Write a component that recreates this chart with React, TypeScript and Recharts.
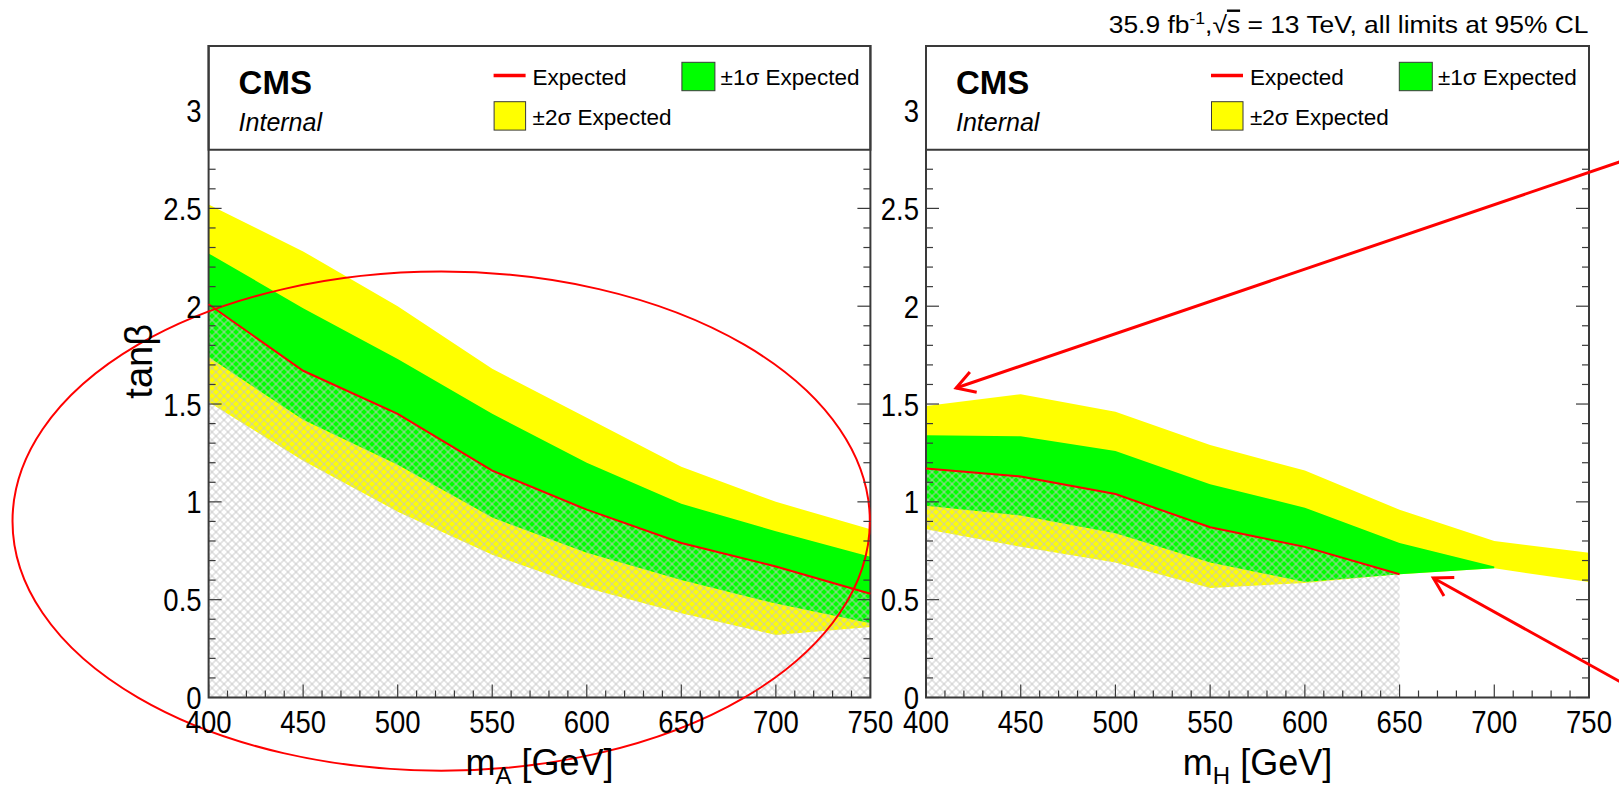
import React from 'react'
import {
  ComposedChart, Area, Line, XAxis, YAxis,
  ReferenceArea, ReferenceLine, Legend,
} from 'recharts'

// mass points of the scan (GeV)
const MASS = [400, 450, 500, 550, 600, 650, 700, 750]

// m_A scan: expected tanβ limit with ±1σ / ±2σ bands
const A_EXP = [2.01, 1.67, 1.45, 1.16, 0.96, 0.79, 0.67, 0.53]
const A_P1 = [2.27, 1.99, 1.73, 1.45, 1.2, 0.99, 0.85, 0.72]
const A_M1 = [1.74, 1.42, 1.19, 0.92, 0.74, 0.6, 0.48, 0.38]
const A_P2 = [2.52, 2.28, 2.0, 1.68, 1.43, 1.18, 1.0, 0.86]
const A_M2 = [1.51, 1.21, 0.95, 0.73, 0.56, 0.43, 0.32, 0.36]

// m_H scan (expected only up to 650, ±1σ up to 700)
const H_EXP = [1.17, 1.13, 1.04, 0.87, 0.77, 0.63, null, null]
const H_P1 = [1.34, 1.335, 1.26, 1.09, 0.97, 0.79, 0.67, null]
const H_M1 = [0.98, 0.93, 0.84, 0.69, 0.59, 0.63, 0.66, null]
const H_P2 = [1.49, 1.55, 1.46, 1.29, 1.16, 0.96, 0.8, 0.74]
const H_M2 = [0.86, 0.77, 0.69, 0.56, 0.585, 0.63, 0.66, 0.59]

const X_LABELS = [400, 450, 500, 550, 600, 650, 700, 750]
const Y_LABELS = [0, 0.5, 1, 1.5, 2, 2.5, 3]

// ROOT-style minor ticks: every 10 GeV and every 0.1 in tanβ (below the legend box)
const X_TICKS = Array.from({ length: 36 }, (_, i) => 400 + i * 10)
const Y_MINOR = Array.from({ length: 28 }, (_, i) => i / 10)
const Y_TICKS_LEFT = [...Y_MINOR, 3]

const Y_MAX = 3.33
const LEGEND_FLOOR = 2.8

// annotations, in data coordinates of each panel
const ELLIPSE_BOX = { x1: 296.3, x2: 749.7, y1: -0.374, y2: 2.177 }
const ARROW_HIGH = [{ x: 777.5, y: 2.775 }, { x: 415.9, y: 1.582 }]
const ARROW_LOW = [{ x: 777.5, y: 0.021 }, { x: 667.8, y: 0.611 }]

const FONT = '"Liberation Sans", Arial, Helvetica, sans-serif'
const INK = '#3a3a3a'
const YELLOW = '#ffff00'
const GREEN = '#00ff00'
const RED = '#ff0000'
const CHART_H = 787
const NUM_SIZE = 32
const NUM_SQUEEZE = 0.86

const rowsA = MASS.map((m, i) => ({
  m,
  exp: A_EXP[i],
  s1: [A_M1[i], A_P1[i]],
  s2: [A_M2[i], A_P2[i]],
}))

const rowsH = MASS.map((m, i) => ({
  m,
  exp: H_EXP[i],
  s1: H_P1[i] == null ? null : [H_M1[i], H_P1[i]],
  s2: [H_M2[i], H_P2[i]],
}))

const fmt = (v: number) => String(Math.round(v * 10) / 10)
const isYLabel = (v: number) => Y_LABELS.some(l => Math.abs(l - v) < 1e-6)

function XTick({ x, y, payload }: any) {
  const v = payload.value
  const major = X_LABELS.includes(v)
  return (
    <g>
      <line x1={x} x2={x} y1={y} y2={y - (major ? 13 : 7)} stroke={INK} strokeWidth={1.2} />
      {major && (
        <text
          transform={`translate(${x},${y + 35.5}) scale(${NUM_SQUEEZE},1)`}
          textAnchor="middle" fontFamily={FONT} fontSize={NUM_SIZE} fill="#000"
        >
          {v}
        </text>
      )}
    </g>
  )
}

function YTickLeft({ x, y, payload }: any) {
  const v = payload.value
  const major = isYLabel(v)
  return (
    <g>
      {v < LEGEND_FLOOR - 0.05 && (
        <line x1={x} x2={x + (major ? 13 : 7)} y1={y} y2={y} stroke={INK} strokeWidth={1.2} />
      )}
      {major && (
        <text
          transform={`translate(${x - 7},${y + 11.5}) scale(${NUM_SQUEEZE},1)`}
          textAnchor="end" fontFamily={FONT} fontSize={NUM_SIZE} fill="#000"
        >
          {fmt(v)}
        </text>
      )}
    </g>
  )
}

function YTickRight({ x, y, payload }: any) {
  const major = isYLabel(payload.value)
  return <line x1={x - (major ? 13 : 7)} x2={x} y1={y} y2={y} stroke={INK} strokeWidth={1.2} />
}

function XTitle({ viewBox, sub }: any) {
  const cx = viewBox.x + viewBox.width / 2
  return (
    <text x={cx} y={viewBox.y + 77} textAnchor="middle" fontFamily={FONT} fontSize={36} fill="#000">
      m<tspan fontSize={24} dy={9}>{sub}</tspan>
      <tspan dy={-9}> [GeV]</tspan>
    </text>
  )
}

function YTitle({ viewBox }: any) {
  const x = viewBox.x + viewBox.width - 57
  const y = viewBox.y + viewBox.height * 0.484
  return (
    <text transform={`translate(${x},${y}) rotate(-90)`} textAnchor="middle" fontFamily={FONT} fontSize={38} fill="#000">
      tanβ
    </text>
  )
}

function Ellipse({ x, y, width, height }: any) {
  return (
    <ellipse
      cx={x + width / 2} cy={y + height / 2}
      rx={Math.abs(width) / 2} ry={Math.abs(height) / 2}
      fill="none" stroke={RED} strokeWidth={2}
    />
  )
}

function Arrow({ x1, y1, x2, y2 }: any) {
  const ang = Math.atan2(y1 - y2, x1 - x2)
  const len = 21
  const a = ang + 0.53
  const b = ang - 0.53
  const head = `${x2 + len * Math.cos(a)},${y2 + len * Math.sin(a)} ${x2},${y2} ${x2 + len * Math.cos(b)},${y2 + len * Math.sin(b)}`
  return (
    <g>
      <line x1={x1} y1={y1} x2={x2} y2={y2} stroke={RED} strokeWidth={3} />
      <polyline points={head} fill="none" stroke={RED} strokeWidth={3} />
    </g>
  )
}

// CMS label + legend box contents, drawn over the white header of each frame
function PanelDecor({ plotLeft, plotRight, width, lumi }: any) {
  const L = plotLeft
  return (
    <svg width={width} height={CHART_H} style={{ position: 'absolute', left: 0, top: 0, overflow: 'visible' }}
      fontFamily={FONT} fill="#000">
      <text x={L + 30} y={93.5} fontSize={33} fontWeight="bold">CMS</text>
      <text x={L + 30} y={130.5} fontSize={25} fontStyle="italic">Internal</text>
      <line x1={L + 285} x2={L + 317} y1={75.5} y2={75.5} stroke={RED} strokeWidth={3.5} />
      <text x={L + 324} y={84.5} fontSize={22.5}>Expected</text>
      <rect x={L + 473.3} y={62.3} width={33} height={28.4} fill={GREEN} stroke={INK} strokeWidth={1} />
      <text x={L + 512} y={84.5} fontSize={22.5}>±1σ Expected</text>
      <rect x={L + 285.5} y={101.7} width={31.5} height={28.4} fill={YELLOW} stroke={INK} strokeWidth={1} />
      <text x={L + 324} y={125} fontSize={22.5}>±2σ Expected</text>
      {lumi && (
        <text transform={`translate(${plotRight - 0.5},33.3) scale(1.1,1)`} textAnchor="end" fontSize={24}>
          35.9 fb<tspan fontSize={16} dy={-9}>-1</tspan>
          <tspan dy={9}>,√</tspan>
          <tspan textDecoration="overline">s</tspan> = 13 TeV, all limits at 95% CL
        </text>
      )}
    </svg>
  )
}

interface PanelProps {
  rows: any[]
  left: number
  width: number
  plotLeft: number
  plotRight: number
  sub: string
  hatchId: string
  yTitle?: boolean
  lumi?: boolean
  children?: React.ReactNode
}

function Panel({ rows, left, width, plotLeft, plotRight, sub, hatchId, yTitle, lumi, children }: PanelProps) {
  const yAxisW = 40
  const rAxisW = 10
  return (
    <div style={{ position: 'absolute', left, top: 0, width, height: CHART_H }}>
      <ComposedChart
        width={width}
        height={CHART_H}
        data={rows}
        margin={{ top: 46, right: width - plotRight - rAxisW, bottom: 59.5, left: plotLeft - yAxisW }}
      >
        <defs>
          <pattern id={hatchId} width={5.657} height={5.657} patternUnits="userSpaceOnUse" patternTransform="rotate(45)">
            <path d="M0,2.83H5.66M2.83,0V5.66" stroke="#c4c4c4" strokeWidth={0.9} />
          </pattern>
        </defs>
        <XAxis
          dataKey="m" type="number" domain={[400, 750]} ticks={X_TICKS} interval={0}
          tick={(p: any) => <XTick {...p} />} tickLine={false} axisLine={false}
          tickSize={0} tickMargin={0} height={30}
          label={(p: any) => <XTitle viewBox={p.viewBox} sub={sub} />}
        />
        <YAxis
          type="number" domain={[0, Y_MAX]} ticks={Y_TICKS_LEFT} interval={0}
          tick={(p: any) => <YTickLeft {...p} />} tickLine={false} axisLine={false}
          tickSize={0} tickMargin={0} width={yAxisW} allowDataOverflow
          label={yTitle ? (p: any) => <YTitle viewBox={p.viewBox} /> : undefined}
        />
        <YAxis
          yAxisId="r" orientation="right" type="number" domain={[0, Y_MAX]} ticks={Y_MINOR} interval={0}
          tick={(p: any) => <YTickRight {...p} />} tickLine={false} axisLine={false}
          tickSize={0} tickMargin={0} width={rAxisW} allowDataOverflow
        />
        <Area dataKey="s2" type="linear" fill={YELLOW} fillOpacity={1} stroke="none" activeDot={false} isAnimationActive={false} />
        <Area dataKey="s1" type="linear" fill={GREEN} fillOpacity={1} stroke="none" activeDot={false} isAnimationActive={false} />
        <Area dataKey="exp" type="linear" fill={`url(#${hatchId})`} fillOpacity={1} stroke="none" activeDot={false} isAnimationActive={false} />
        <Line dataKey="exp" type="linear" stroke={RED} strokeWidth={2} dot={false} activeDot={false} isAnimationActive={false} />
        <ReferenceArea x1={400} x2={750} y1={LEGEND_FLOOR} y2={Y_MAX} fill="#fff" fillOpacity={1} stroke={INK} strokeWidth={2} ifOverflow="visible" />
        <ReferenceArea x1={400} x2={750} y1={0} y2={Y_MAX} fill="none" stroke={INK} strokeWidth={2} ifOverflow="visible" />
        {children}
        <Legend
          layout="horizontal" verticalAlign="middle" align="center"
          wrapperStyle={{ left: 0, top: 0, width, height: CHART_H, pointerEvents: 'none' }}
          content={() => <PanelDecor plotLeft={plotLeft} plotRight={plotRight} width={width} lumi={lumi} />}
        />
      </ComposedChart>
    </div>
  )
}

export default function App() {
  return (
    <div style={{ position: 'absolute', left: 0, top: 0, width: 1619, height: CHART_H, background: '#fff', overflow: 'hidden' }}>
      <Panel rows={rowsA} left={0} width={900} plotLeft={208.6} plotRight={870.4} sub="A" hatchId="hatchA" yTitle>
        <ReferenceArea {...ELLIPSE_BOX} ifOverflow="visible" shape={(p: any) => <Ellipse {...p} />} />
      </Panel>
      <Panel rows={rowsH} left={880} width={739} plotLeft={46} plotRight={709} sub="H" hatchId="hatchH" lumi>
        <ReferenceLine segment={ARROW_HIGH} ifOverflow="visible" shape={(p: any) => <Arrow {...p} />} />
        <ReferenceLine segment={ARROW_LOW} ifOverflow="visible" shape={(p: any) => <Arrow {...p} />} />
      </Panel>
    </div>
  )
}
